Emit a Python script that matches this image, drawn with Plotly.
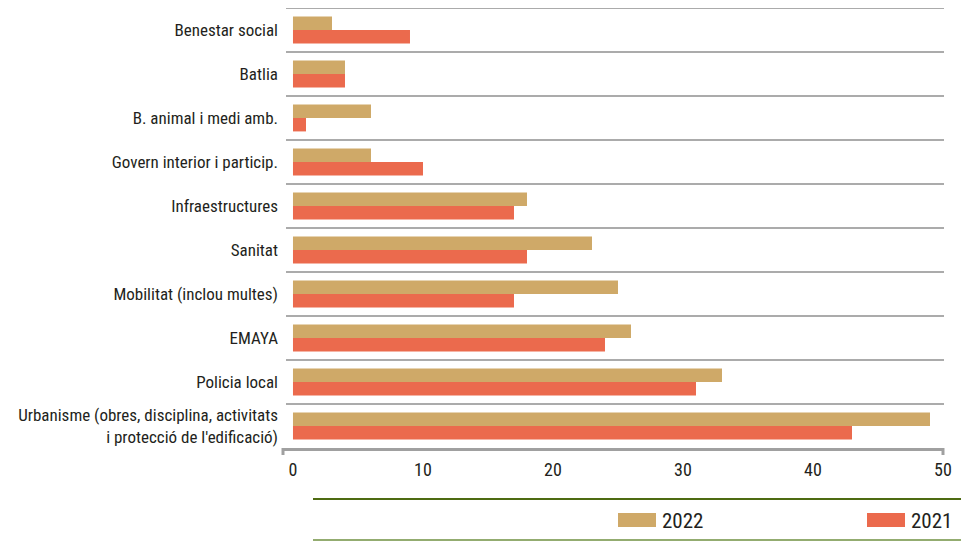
import plotly.graph_objects as go

# Departments (top to bottom) and number of cases per year
categories = [
    "Benestar social",
    "Batlia",
    "B. animal i medi amb.",
    "Govern interior i particip.",
    "Infraestructures",
    "Sanitat",
    "Mobilitat (inclou multes)",
    "EMAYA",
    "Policia local",
    "Urbanisme (obres, disciplina, activitats<br>i protecció de l'edificació)",
]
values_2022 = [3, 4, 6, 6, 18, 23, 25, 26, 33, 49]
values_2021 = [9, 4, 1, 10, 17, 18, 17, 24, 31, 43]
series_names = ["2022", "2021"]
x_ticks = [0, 10, 20, 30, 40, 50]

COL_2022 = "#CFA968"
COL_2021 = "#EB6A4D"
FONT = "Liberation Sans Narrow, Roboto Condensed, Arial Narrow, sans-serif"
TEXT = "#231F20"

W, H = 961, 555
L, R, T, B = 283, 943, 8, 448   # plot area in pixels
pw, ph = R - L, B - T

def px(x):
    return (x - L) / pw

def py(y):
    return (B - y) / ph

fig = go.Figure()
fig.add_trace(go.Bar(y=categories, x=values_2022, name=series_names[0], orientation="h",
                     marker=dict(color=COL_2022, line=dict(width=0))))
fig.add_trace(go.Bar(y=categories, x=values_2021, name=series_names[1], orientation="h",
                     marker=dict(color=COL_2021, line=dict(width=0))))

shapes = []
# row separators between categories
for i in range(len(categories)):
    shapes.append(dict(type="line", xref="paper", yref="y", x0=px(286), x1=px(944),
                       y0=i - 0.5, y1=i - 0.5, line=dict(color="#ABABAB", width=2)))
# end ticks on the value axis
for xp in (0, 1):
    shapes.append(dict(type="line", xref="paper", yref="paper", x0=xp, x1=xp,
                       y0=0, y1=-7 / ph, line=dict(color="#A0A0A0", width=3)))
# legend frame lines
shapes.append(dict(type="line", xref="paper", yref="paper", x0=px(313), x1=px(961),
                   y0=py(499), y1=py(499), line=dict(color="#4E6B12", width=2)))
shapes.append(dict(type="line", xref="paper", yref="paper", x0=px(313), x1=px(961),
                   y0=py(540), y1=py(540), line=dict(color="#93AC70", width=2)))

annotations = []
# legend swatches and labels
for name, col, sx in ((series_names[0], COL_2022, 618), (series_names[1], COL_2021, 867)):
    shapes.append(dict(type="rect", xref="paper", yref="paper", x0=px(sx), x1=px(sx + 38),
                       y0=py(527), y1=py(513), fillcolor=col, line=dict(width=0)))
    annotations.append(dict(xref="paper", yref="paper", x=px(sx + 42), y=py(520.5),
                            xanchor="left", yanchor="middle", text=name, showarrow=False,
                            font=dict(family=FONT, size=21, color=TEXT)))

fig.update_layout(
    width=W, height=H,
    margin=dict(l=L, r=W - R, t=T, b=H - B, pad=0),
    paper_bgcolor="white", plot_bgcolor="white",
    barmode="group", bargap=0.39, bargroupgap=0,
    showlegend=False,
    shapes=shapes, annotations=annotations,
    font=dict(family=FONT, size=18, color=TEXT),
    xaxis=dict(range=[-10 / 13.02, 50], tickvals=x_ticks, ticks="", showgrid=False,
               zeroline=False, showline=True, linecolor="#A0A0A0", linewidth=3,
               ticklabelstandoff=3, tickfont=dict(family=FONT, size=18, color=TEXT)),
    yaxis=dict(categoryorder="array", categoryarray=categories, autorange=False,
               range=[len(categories) - 0.5, -0.5], ticks="", showgrid=False,
               zeroline=False, showline=False, ticklabelstandoff=4,
               tickfont=dict(family=FONT, size=17, color=TEXT)),
)

fig.write_html("out.html")
